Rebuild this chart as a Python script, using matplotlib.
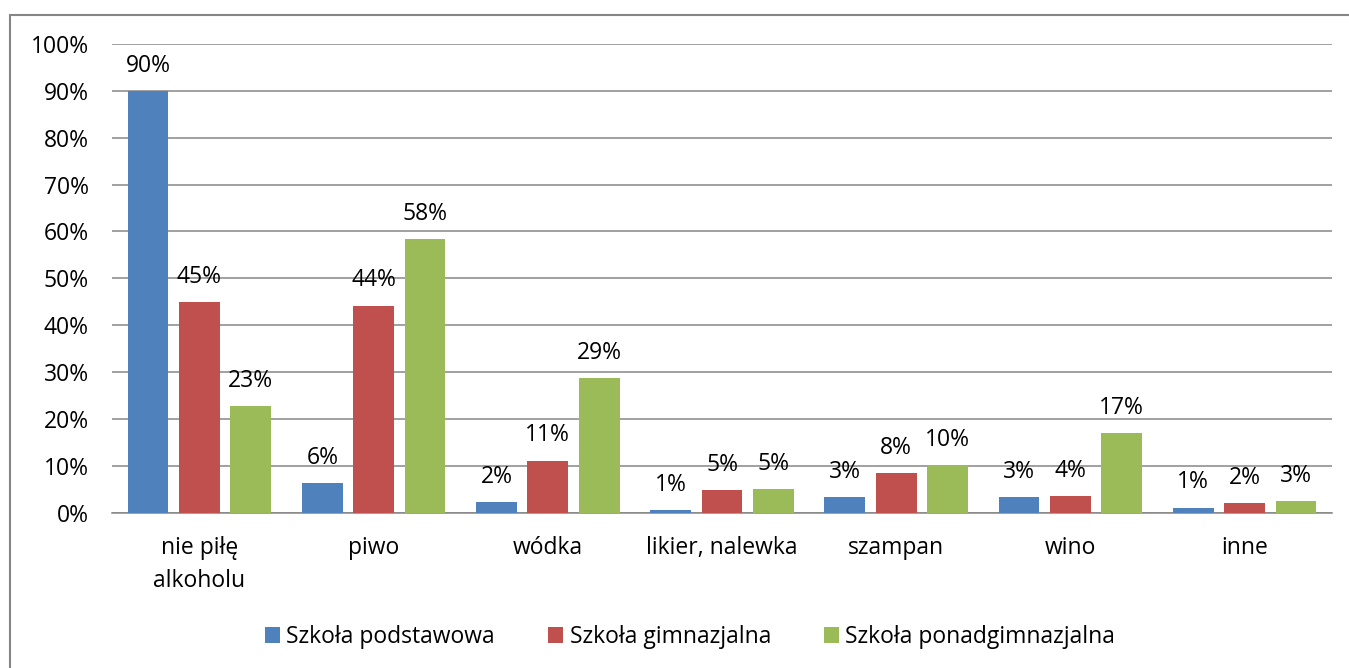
import numpy as np
import matplotlib.pyplot as plt
from matplotlib.patches import Rectangle

categories = ['nie piłę\nalkoholu', 'piwo', 'wódka', 'likier, nalewka', 'szampan', 'wino', 'inne']
podstawowa = [90.0, 6.3, 2.2, 0.5, 3.4, 3.4, 1.1]
gimnazjalna = [45.0, 44.2, 11.1, 4.9, 8.4, 3.6, 2.1]
ponadgimnazjalna = [22.8, 58.4, 28.7, 5.0, 10.1, 16.9, 2.5]
series_names = ['Szkoła podstawowa', 'Szkoła gimnazjalna', 'Szkoła ponadgimnazjalna']
colors = ['#4F81BD', '#C0504D', '#9BBB59']
yticks = np.arange(0, 101, 10)

plt.rcParams['font.family'] = ['Open Sans', 'DejaVu Sans']
fs = 16.5

fig = plt.figure(figsize=(13.49, 6.68), dpi=100)
ax = fig.add_axes([0.0833, 0.2325, 0.9039, 0.7016])

# chart frame (only left and top edges visible in the reference)
fig.patches.append(Rectangle((10 / 1349, -0.1), 1.2, 1 - 15 / 668 + 0.1,
                             transform=fig.transFigure, fill=False,
                             edgecolor='#868686', linewidth=1.5))

x = np.arange(len(categories))
w = 0.234
step = 0.295
for k, vals in enumerate([podstawowa, gimnazjalna, ponadgimnazjalna]):
    pos = x + (k - 1) * step
    bars = ax.bar(pos, vals, w, color=colors[k], label=series_names[k], zorder=3)
    for b, v in zip(bars, vals):
        ax.annotate('%d%%' % round(v + 1e-9), (b.get_x() + b.get_width() / 2, v),
                    xytext=(0, 9.5), textcoords='offset points',
                    ha='center', va='bottom', fontsize=fs)

ax.set_xlim(-0.5, len(categories) - 0.5)
ax.set_ylim(0, 100)
ax.set_yticks(yticks)
ax.set_yticklabels(['%d%%' % t for t in yticks], fontsize=fs)
ax.set_xticks(x)
ax.set_xticklabels(categories, fontsize=fs, linespacing=1.5)
ax.tick_params(axis='y', length=0, pad=17)
ax.tick_params(axis='x', length=0, pad=17)
ax.grid(axis='y', color='#868686', linewidth=1.1, zorder=0)
for s in ['top', 'right', 'left']:
    ax.spines[s].set_visible(False)
ax.spines['bottom'].set_color('#868686')
ax.spines['bottom'].set_linewidth(1.1)

fig.legend(loc='center', bbox_to_anchor=(690 / 1349, 1 - 637 / 668), ncol=3,
           frameon=False, fontsize=fs, handlelength=0.65, handleheight=0.65,
           handletextpad=0.3, columnspacing=2.3)

fig.savefig('out.png', dpi=100)
